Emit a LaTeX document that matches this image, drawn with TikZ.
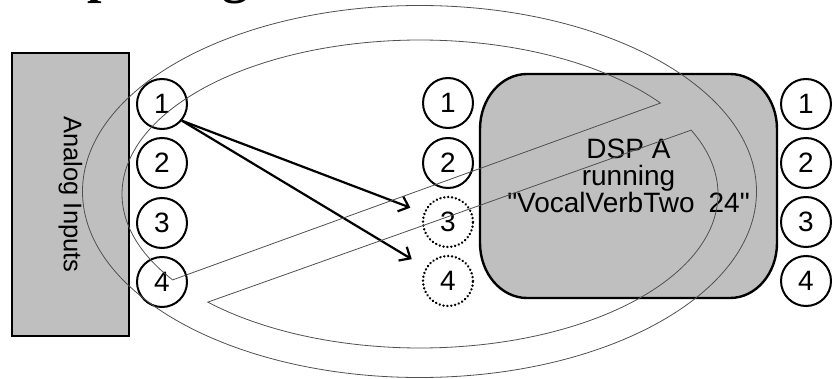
\documentclass[tikz,border=0pt]{standalone}
\usepackage{fontspec}
\setmainfont{Liberation Sans}[Ligatures=TeXOff]
\newfontfamily\titlefont{Liberation Serif}
\usetikzlibrary{arrows.meta,calc}
\definecolor{boxgray}{RGB}{191,191,191}
\definecolor{linegray}{RGB}{80,80,80}
\begin{document}
\begin{tikzpicture}[x=1pt,y=-1pt,
  txt/.style={font=\fontsize{28}{28}\selectfont},
  num/.style={circle,draw,line width=2pt,minimum size=50pt,inner sep=0pt,font=\fontsize{28}{28}\selectfont},
  ghost/.style={num,dash pattern=on 0.1pt off 3.8pt,line cap=round,line width=2.6pt},
  grayb/.style={draw,line width=2pt,fill=boxgray},
  ring/.style={draw=linegray,line width=0.8pt},
  route/.style={line width=2.2pt,-{Straight Barb[length=9pt,width=16pt,line width=2.2pt]}}
]
\useasboundingbox (0,0) rectangle (834,379);

% cropped title
\node[anchor=base west, font=\titlefont\bfseries\fontsize{52}{52}\selectfont, inner sep=0pt] (title) at (58,-7) {Splitting};

% analog inputs box
\node[grayb, minimum width=117pt, minimum height=283pt] (ain) at (70.5,194.5) {};
\node[font=\fontsize{25.5}{27}\selectfont, rotate=-90] (ainlabel) at (ain) {Analog Inputs};

% DSP box
\draw[grayb, line width=2.4pt] (527,74) -- (730,74)
  arc[start angle=90,end angle=0,x radius=47pt,y radius=55pt] -- (777,243)
  arc[start angle=0,end angle=-90,x radius=47pt,y radius=55pt] -- (527,298)
  arc[start angle=-90,end angle=-180,x radius=47pt,y radius=55pt] -- (480,129)
  arc[start angle=180,end angle=90,x radius=47pt,y radius=55pt] -- cycle;
\node[txt, anchor=base] (dspa) at (628.5,159) {DSP A};
\node[txt, anchor=base] (dspb) at (628.5,186) {running};
\node[txt, anchor=base] (dspc) at (628.5,213) {"VocalVerbTwo\hspace{14pt}24"};

% left column
\node[num] (a1) at (162,104) {1};
\node[num] (a2) at (162,163) {2};
\node[num] (a3) at (162,223) {3};
\node[num] (a4) at (162,282) {4};
% middle column
\node[num] (m1) at (448,103) {1};
\node[num] (m2) at (448,163) {2};
\node[ghost] (m3) at (448,222) {3};
\node[ghost] (m4) at (448,281) {4};
% right column
\node[num] (r1) at (806,104) {1};
\node[num] (r2) at (806,163) {2};
\node[num] (r3) at (806,222) {3};
\node[num] (r4) at (806,281) {4};

% routing arrows
\draw[route, shorten >=14pt] (a1.-40) -- (m3);
\draw[route, shorten >=16pt] (a1.-40) -- (m4);

% prohibition sign outline
\draw[ring] (419.5,191.5) ellipse [x radius=337pt, y radius=186pt];
\draw[ring] plot[domain=-36.2:-213.9, samples=150] ({420+298*cos(\x)},{194+154*sin(\x)}) -- cycle;
\draw[ring] plot[domain=-24.5:135.4, samples=150] ({420+298*cos(\x)},{194+154*sin(\x)}) -- cycle;
\end{tikzpicture}
\end{document}
